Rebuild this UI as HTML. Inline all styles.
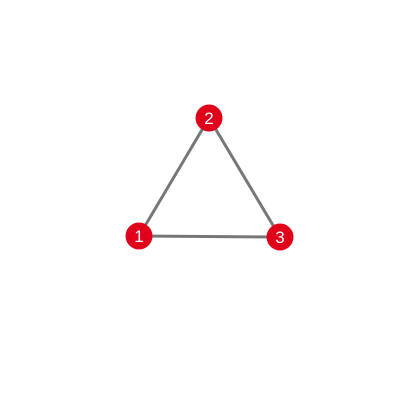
<!DOCTYPE html>
<html>
<head>
<meta charset="utf-8">
<style>
  html, body { margin: 0; padding: 0; background: #ffffff; }
  svg { display: block; }
</style>
</head>
<body>
<svg id="chart" width="400" height="400" viewBox="0 0 400 400" xmlns="http://www.w3.org/2000/svg">
  <rect x="0" y="0" width="400" height="400" fill="#ffffff"/>
  <g id="edges"></g>
  <g id="nodes"></g>
</svg>
<script>
const nodeIds = ["1", "2", "3"];
const nodeX = [139, 209, 280];
const nodeY = [236, 118, 237];
const edgeSource = [0, 1, 0];
const edgeTarget = [1, 2, 2];

const NS = "http://www.w3.org/2000/svg";
const edgesG = document.getElementById("edges");
const nodesG = document.getElementById("nodes");

for (let i = 0; i < edgeSource.length; i++) {
  const s = edgeSource[i], t = edgeTarget[i];
  const line = document.createElementNS(NS, "line");
  line.setAttribute("x1", nodeX[s]);
  line.setAttribute("y1", nodeY[s]);
  line.setAttribute("x2", nodeX[t]);
  line.setAttribute("y2", nodeY[t]);
  line.setAttribute("stroke", "#777777");
  line.setAttribute("stroke-width", "3");
  
  
  edgesG.appendChild(line);
}

for (let i = 0; i < nodeIds.length; i++) {
  const g = document.createElementNS(NS, "g");
  
  
  const c = document.createElementNS(NS, "circle");
  c.setAttribute("cx", nodeX[i]);
  c.setAttribute("cy", nodeY[i]);
  c.setAttribute("r", "13.5");
  c.setAttribute("fill", "#e0001b");
  
  
  g.appendChild(c);
  const tx = document.createElementNS(NS, "text");
  tx.setAttribute("x", nodeX[i]);
  tx.setAttribute("y", nodeY[i] + 6);
  tx.setAttribute("text-anchor", "middle");
  tx.setAttribute("font-family", "Liberation Sans, sans-serif");
  tx.setAttribute("font-size", "17");
  tx.setAttribute("fill", "#ffffff");
  
  
  tx.textContent = nodeIds[i];
  g.appendChild(tx);
  nodesG.appendChild(g);
}
</script>
</body>
</html>
